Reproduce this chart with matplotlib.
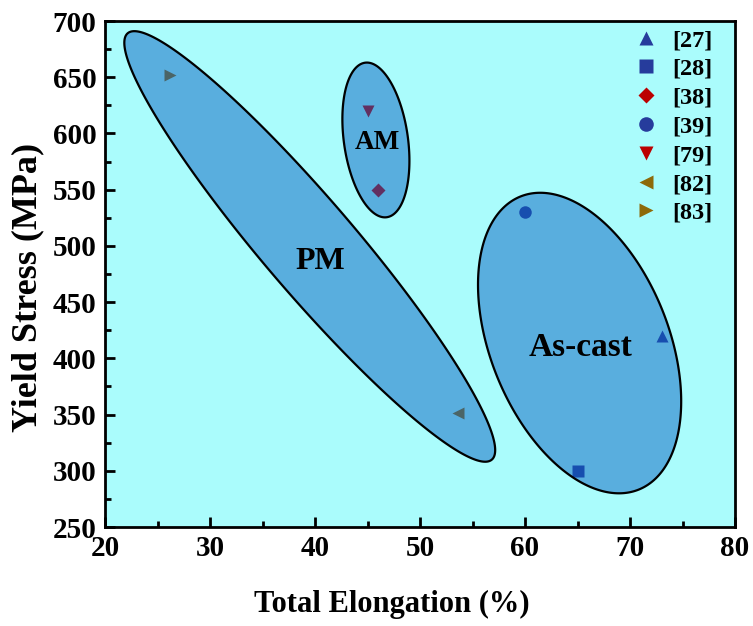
import numpy as np
import matplotlib
matplotlib.use("Agg")
import matplotlib.pyplot as plt
from matplotlib.patches import Polygon
from matplotlib.lines import Line2D

# Dados (alongamento total %, tensao de escoamento MPa)
refs = ["[27]", "[28]", "[38]", "[39]", "[79]", "[82]", "[83]"]
elong = [73, 65, 46, 60, 45, 53.6, 26.2]
yield_stress = [420, 300, 550, 530, 620, 351, 652]
markers = ["^", "s", "D", "o", "v", "<", ">"]
colors = ["#263c9c", "#263c9c", "#bb0000", "#263c9c", "#bb0000", "#8d6a0a", "#8d6a0a"]
msizes = [9, 8, 7, 9, 9, 9, 9]

# Grupos (centro x, centro y, semi-eixos em unidades de x, angulo em tela)
groups = ["PM", "AM", "As-cast"]
g_cx = [39.5, 45.8, 65.2]
g_cy = [499.5, 594.2, 413.6]
g_a = [26.7, 7.43, 15.05]
g_b = [4.4, 3.05, 8.48]
g_ang = [-49.5, 98, 112]
lbl_x = [40.5, 45.9, 65.3]
lbl_y = [485.7, 591.8, 409.4]
lbl_size = [23, 19.5, 24]

plt.rcParams["font.family"] = ["Liberation Serif", "DejaVu Serif"]
plt.rcParams["font.weight"] = "bold"

fig = plt.figure(figsize=(7.53, 6.26), dpi=100)
ax = fig.add_axes([105 / 753, 1 - 527 / 626, 630 / 753, 506 / 626])
ax.set_facecolor("#aafcfc")
ax.set_xlim(20, 80)
ax.set_ylim(250, 700)

# pontos (ficam por baixo das elipses semi-transparentes)
for x, y, m, c, ms in zip(elong, yield_stress, markers, colors, msizes):
    ax.plot(x, y, marker=m, color=c, ms=ms, ls="none", mec="none", zorder=2)

# escala: MPa por unidade de x na tela
pos = ax.get_position()
w_px = pos.width * fig.get_figwidth()
h_px = pos.height * fig.get_figheight()
k = (450 / h_px) * (w_px / 60)

t = np.linspace(0, 2 * np.pi, 400)
for cx, cy, a, b, ang in zip(g_cx, g_cy, g_a, g_b, g_ang):
    th = np.deg2rad(ang)
    u = a * np.cos(t) * np.cos(th) - b * np.sin(t) * np.sin(th)
    v = a * np.cos(t) * np.sin(th) + b * np.sin(t) * np.cos(th)
    xy = np.column_stack([cx + u, cy + v * k])
    ax.add_patch(Polygon(xy, closed=True, facecolor=(0.04, 0.38, 0.76, 0.5),
                         edgecolor="black", lw=1.6, zorder=3))

for name, x, y, s in zip(groups, lbl_x, lbl_y, lbl_size):
    ax.text(x, y, name, ha="center", va="center", fontsize=s, fontweight="bold", zorder=4)

handles = [Line2D([], [], marker=m, color=c, ls="none", ms=ms + 1.5, mec="none")
           for m, c, ms in zip(markers, colors, msizes)]
ax.legend(handles, refs, loc="upper right", frameon=False, fontsize=17.5,
          handlelength=1.0, handletextpad=0.6, labelspacing=0.28,
          borderaxespad=0.2, bbox_to_anchor=(0.988, 1.013))

ax.set_xticks(np.arange(20, 81, 10))
ax.set_yticks(np.arange(250, 701, 50))
ax.set_xticks(np.arange(25, 80, 10), minor=True)
ax.set_yticks(np.arange(275, 700, 50), minor=True)
ax.tick_params(which="both", direction="in", width=2, labelsize=21)
ax.tick_params(which="major", length=7, pad=6)
ax.tick_params(which="minor", length=4)
for sp in ax.spines.values():
    sp.set_linewidth(2)

ax.set_xlabel("Total Elongation (%)", fontsize=22, fontweight="bold")
ax.xaxis.set_label_coords(0.456, -0.125)
ax.set_ylabel("Yield Stress (MPa)", fontsize=26, fontweight="bold")
ax.yaxis.set_label_coords(-0.096, 0.474)

fig.savefig("out.png", dpi=100)
